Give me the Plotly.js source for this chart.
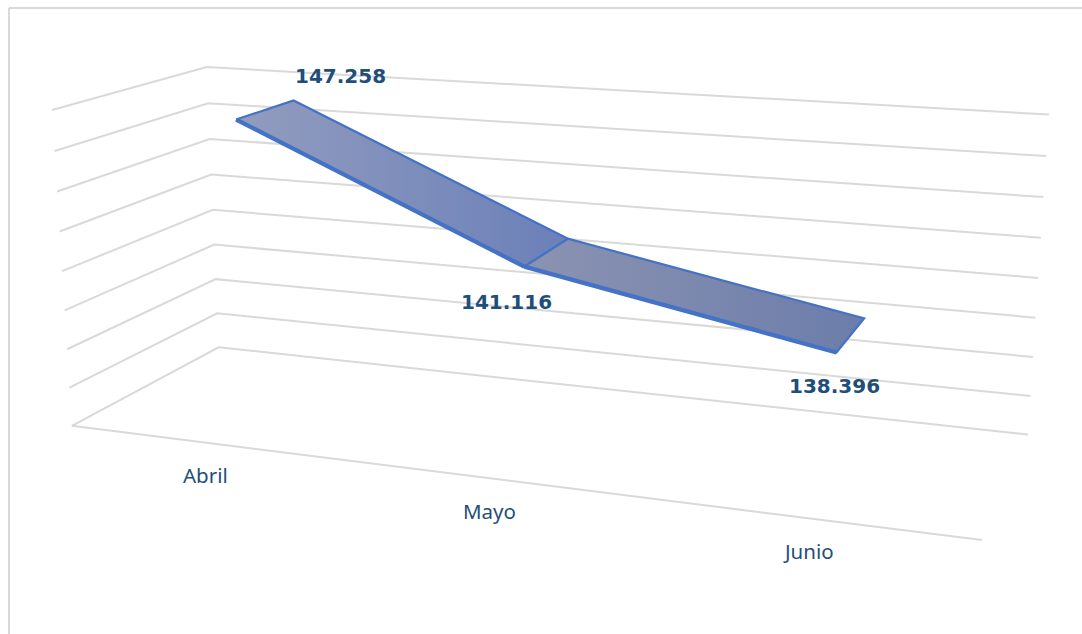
<!DOCTYPE html>
<html><head><meta charset="utf-8">
<script src="https://cdn.plot.ly/plotly-3.0.1.min.js"></script>
<style>html,body{margin:0;padding:0;background:#fff}#c{width:1082px;height:634px}</style>
</head><body><div id="c"></div>
<script>
const categories = ['Abril', 'Mayo', 'Junio'];
const values = [147258, 141116, 138396];
const axisMin = 132000, axisMax = 148000, axisStep = 2000;

// Perspective camera of the 3-D box, fitted from its visible corners: [u, depth, v] -> [px, py]
const cameraFit = [
  [0,0,0,72,426],[1,0,0,982,540],[0,1,0,218,347],[1,1,0,1028,435],
  [0,0,1,51,110],[0,1,1,207,67],[1,1,1,1049,115],
  [0,0,.5,63,271],[0,1,.5,213,210],[1,1,.5,1038,277]
];
function solve(A, b) {
  const n = b.length, M = A.map((r, i) => r.concat(b[i]));
  for (let i = 0; i < n; i++) {
    let p = i; for (let k = i + 1; k < n; k++) if (Math.abs(M[k][i]) > Math.abs(M[p][i])) p = k;
    [M[i], M[p]] = [M[p], M[i]];
    for (let k = 0; k < n; k++) if (k !== i) {
      const f = M[k][i] / M[i][i];
      for (let j = i; j <= n; j++) M[k][j] -= f * M[i][j];
    }
  }
  return M.map((r, i) => r[n] / r[i]);
}
const rows = [], rhs = [];
cameraFit.forEach(([u, w, v, x, y]) => {
  rows.push([u,w,v,1,0,0,0,0,-u*x,-w*x,-v*x]); rhs.push(x);
  rows.push([0,0,0,0,u,w,v,1,-u*y,-w*y,-v*y]); rhs.push(y);
});
const At = rows[0].map((_, j) => rows.map(r => r[j]));
const AtA = At.map(a => At.map(b => a.reduce((s, x, i) => s + x * b[i], 0)));
const Atb = At.map(a => a.reduce((s, x, i) => s + x * rhs[i], 0));
const P = solve(AtA, Atb);
function proj(u, w, v) {
  const d = P[8]*u + P[9]*w + P[10]*v + 1;
  return [(P[0]*u + P[1]*w + P[2]*v + P[3]) / d, (P[4]*u + P[5]*w + P[6]*v + P[7]) / d];
}
const vOf = val => (val - axisMin) / (axisMax - axisMin);
const uOf = i => (i + 0.5) / categories.length;
const wFront = 0.295, wBack = 0.705;

const gridColor = '#d9d9d9', blue = '#4472c4', textColor = '#1f4e79';
const traces = [];
function line(pts, color, width) {
  traces.push({type:'scatter', mode:'lines', x:pts.map(p=>p[0]), y:pts.map(p=>p[1]),
    line:{color, width, simplify:false}, hoverinfo:'skip', showlegend:false});
}
for (let val = axisMin; val <= axisMax; val += axisStep) {
  const v = vOf(val);
  line([proj(0,0,v), proj(0,1,v), proj(1,1,v)], gridColor, 2);
}
line([proj(0,0,0), proj(1,0,0)], gridColor, 2);

const gradients = [['#929cbe','#6b80b9'], ['#8b93b1','#6c7dab']];
for (let i = 0; i < values.length - 1; i++) {
  const a = uOf(i), b = uOf(i+1), va = vOf(values[i]), vb = vOf(values[i+1]);
  const poly = [proj(a,wFront,va), proj(b,wFront,vb), proj(b,wBack,vb), proj(a,wBack,va), proj(a,wFront,va)];
  traces.push({type:'scatter', mode:'lines', x:poly.map(p=>p[0]), y:poly.map(p=>p[1]), fill:'toself',
    fillgradient:{type:'horizontal', colorscale:[[0,gradients[i][0]],[1,gradients[i][1]]]},
    line:{color:blue, width:2.2}, hoverinfo:'skip', showlegend:false});
  line([proj(a,wFront,va), proj(b,wFront,vb)], blue, 4.2);
}

const fmt = n => String(n).replace(/(\d)(?=(\d{3})+$)/g, '$1.');
const annotations = [];
const valueOffsets = [[47,-24],[-18,35],[-2,34]];
values.forEach((val, i) => {
  const w = i === 0 ? wBack : wFront;
  const p = proj(uOf(i), w, vOf(val));
  annotations.push({x:p[0], y:p[1], xref:'x', yref:'y', text:'<b>'+fmt(val)+'</b>', showarrow:false,
    xshift:valueOffsets[i][0], yshift:-valueOffsets[i][1], font:{family:'DejaVu Sans', size:20, color:textColor}});
});
const categoryShifts = [1, -1, -1];
categories.forEach((c, i) => {
  const p = proj(uOf(i), 0, 0);
  annotations.push({x:p[0], y:p[1], xref:'x', yref:'y', text:c, showarrow:false, xshift:categoryShifts[i], yshift:-33,
    font:{family:'Noto Sans', size:20.5, color:textColor}});
});

const layout = {
  width:1082, height:634, margin:{l:0,r:0,t:0,b:0}, paper_bgcolor:'#fff', plot_bgcolor:'#fff', showlegend:false,
  xaxis:{range:[0,1082], visible:false, fixedrange:true},
  yaxis:{range:[634,0], visible:false, fixedrange:true},
  annotations,
  shapes:[
    {type:'line', xref:'x', yref:'y', x0:9, y0:8, x1:1082, y1:8, line:{color:gridColor, width:2}},
    {type:'line', xref:'x', yref:'y', x0:9, y0:8, x1:9, y1:634, line:{color:gridColor, width:2}}
  ]
};
Plotly.newPlot('c', traces, layout, {displayModeBar:false, staticPlot:true});
</script></body></html>
